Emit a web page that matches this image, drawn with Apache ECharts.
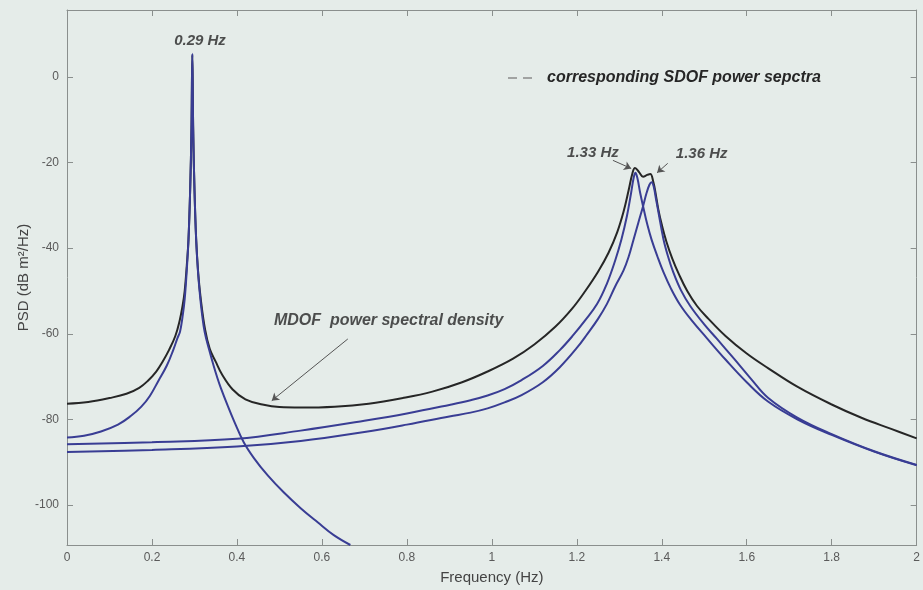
<!DOCTYPE html>
<html>
<head>
<meta charset="utf-8">
<script src="https://cdn.jsdelivr.net/npm/echarts@6/dist/echarts.min.js"></script>
<style>
  html, body { margin: 0; padding: 0; background: #e5ece9; }
  #main { width: 923px; height: 590px; }
</style>
</head>
<body>
<div id="main"></div>
<script>
// [frequency Hz, PSD dB]
var mdofPsd = [
  [0.00, -76.3], [0.05, -75.9], [0.10, -75.0], [0.14, -74.0], [0.17, -72.6],
  [0.19, -71.0], [0.21, -68.8], [0.225, -66.5], [0.24, -63.8], [0.255, -60.5],
  [0.265, -57.0], [0.272, -53.5], [0.277, -50.0], [0.282, -44.0], [0.286, -37.9],
  [0.29, -26.0], [0.293, -12.0], [0.295, 5.1], [0.297, -12.0], [0.300, -26.0],
  [0.304, -37.9], [0.309, -46.0], [0.315, -52.0], [0.325, -59.0], [0.336, -63.5],
  [0.35, -66.5], [0.365, -69.5], [0.39, -73.0], [0.42, -75.3], [0.46, -76.5],
  [0.50, -77.1], [0.55, -77.2], [0.63, -77.0], [0.71, -76.3], [0.79, -75.0],
  [0.86, -73.5], [0.93, -71.3], [0.99, -68.8], [1.05, -65.8], [1.10, -62.5],
  [1.15, -58.3], [1.19, -54.0], [1.22, -50.0], [1.25, -45.5], [1.275, -41.0],
  [1.295, -36.3], [1.31, -31.5], [1.322, -26.5], [1.331, -22.5], [1.337, -21.3],
  [1.347, -22.3], [1.356, -23.3], [1.366, -22.9], [1.373, -22.7], [1.38, -24.5],
  [1.386, -27.5], [1.392, -31.0], [1.40, -34.5], [1.411, -38.5], [1.425, -42.5],
  [1.44, -46.0], [1.46, -50.0], [1.483, -53.5], [1.51, -56.5], [1.55, -60.5],
  [1.60, -64.6], [1.65, -68.0], [1.72, -72.4], [1.80, -76.5], [1.87, -79.6],
  [1.94, -82.2], [2.00, -84.4]
];
var sdof029 = [
  [0.00, -84.2], [0.04, -83.8], [0.08, -82.8], [0.12, -81.2], [0.15, -79.2],
  [0.175, -77.0], [0.195, -74.5], [0.215, -71.0], [0.235, -67.4], [0.25, -63.8],
  [0.26, -61.0], [0.266, -59.5], [0.272, -56.0], [0.277, -51.9], [0.282, -45.0],
  [0.286, -37.9], [0.29, -26.0], [0.293, -12.0], [0.295, 5.4], [0.297, -12.0],
  [0.300, -26.0], [0.304, -37.9], [0.308, -45.0], [0.313, -51.0], [0.318, -55.5],
  [0.324, -59.5], [0.334, -63.5], [0.345, -67.4], [0.354, -70.3], [0.362, -72.6],
  [0.378, -76.7], [0.393, -80.3], [0.416, -85.3], [0.44, -89.0], [0.472, -93.0],
  [0.51, -97.0], [0.55, -100.7], [0.59, -104.0], [0.628, -107.0], [0.667, -109.3]
];
var sdof133 = [
  [0.00, -85.8], [0.20, -85.3], [0.40, -84.5], [0.55, -82.6], [0.70, -80.3],
  [0.80, -78.6], [0.90, -76.6], [0.95, -75.5], [0.99, -74.4], [1.03, -72.9],
  [1.07, -70.8], [1.12, -67.5], [1.16, -63.8], [1.19, -60.5], [1.22, -56.8],
  [1.248, -53.0], [1.27, -48.5], [1.29, -43.0], [1.305, -38.0], [1.318, -32.5],
  [1.328, -27.0], [1.334, -23.5], [1.338, -22.4], [1.343, -23.8], [1.349, -27.0],
  [1.356, -30.2], [1.366, -34.5], [1.376, -38.0], [1.39, -42.0], [1.404, -45.6],
  [1.422, -49.5], [1.443, -53.2], [1.47, -56.8], [1.506, -61.0], [1.55, -66.0],
  [1.60, -71.3], [1.65, -75.8], [1.72, -80.0], [1.80, -83.6], [1.90, -87.5],
  [2.00, -90.7]
];
var sdof136 = [
  [0.00, -87.6], [0.20, -87.1], [0.40, -86.3], [0.55, -85.0], [0.70, -82.9],
  [0.80, -81.2], [0.90, -79.3], [0.95, -78.4], [0.99, -77.4], [1.03, -76.0],
  [1.07, -74.3], [1.12, -71.3], [1.16, -67.8], [1.20, -63.3], [1.225, -60.0],
  [1.25, -56.5], [1.271, -53.0], [1.29, -49.0], [1.31, -45.2], [1.322, -42.0],
  [1.333, -38.2], [1.345, -34.0], [1.356, -30.2], [1.364, -27.2], [1.371, -25.2],
  [1.376, -24.6], [1.381, -25.6], [1.386, -28.3], [1.392, -31.5], [1.404, -37.9],
  [1.415, -42.0], [1.427, -45.6], [1.445, -49.8], [1.467, -53.5], [1.50, -57.8],
  [1.53, -61.2], [1.57, -65.8], [1.61, -70.5], [1.65, -74.9], [1.72, -79.6],
  [1.80, -83.4], [1.90, -87.4], [2.00, -90.6]
];
var yTicks = [-100, -80, -60, -40, -20, 0];

var chart = echarts.init(document.getElementById('main'));

var fontFamily = '"Liberation Sans", Arial, sans-serif';
var tickFont = { color: '#5a5a5a', fontSize: 12, fontFamily: fontFamily };
var noteFont = { color: '#262626', fontSize: 15, fontStyle: 'italic', fontWeight: 'bold', fontFamily: fontFamily };
var axisGrey = '#8a8f8d';

function curve(name, data, color) {
  return {
    name: name,
    type: 'line',
    data: data,
    showSymbol: false,
    smooth: 0.4,
    silent: true,
    lineStyle: { color: color, width: 2 }
  };
}

// matlab style box: ticks inside on all four sides
function boxAxis(extra) {
  return Object.assign({
    type: 'value',
    axisLine: { show: true, onZero: false, lineStyle: { color: axisGrey } },
    axisTick: { inside: true, length: 6, lineStyle: { color: axisGrey } },
    axisLabel: { show: false },
    splitLine: { show: false }
  }, extra);
}

chart.setOption({
  backgroundColor: '#e5ece9',
  animation: false,
  grid: { left: 67, right: 6, top: 10, bottom: 43 },
  xAxis: [
    boxAxis({
      min: 0, max: 2, interval: 0.2, position: 'bottom',
      name: 'Frequency (Hz)', nameLocation: 'middle', nameGap: 25,
      nameTextStyle: { color: '#444', fontSize: 15, fontFamily: fontFamily },
      axisLabel: Object.assign({ show: true, margin: 7 }, tickFont)
    }),
    boxAxis({ min: 0, max: 2, interval: 0.2, position: 'top' })
  ],
  yAxis: [
    boxAxis({
      min: -109.3, max: 15.6, position: 'left',
      name: 'PSD (dB m\u00b2/Hz)', nameLocation: 'middle', nameGap: 36,
      nameMoveOverlap: false,
      nameTextStyle: { color: '#444', fontSize: 15, fontFamily: fontFamily },
      axisTick: { inside: true, length: 6, customValues: yTicks, lineStyle: { color: axisGrey } },
      axisLabel: Object.assign({ show: true, margin: 8, customValues: yTicks }, tickFont)
    }),
    boxAxis({
      min: -109.3, max: 15.6, position: 'right',
      axisTick: { inside: true, length: 6, customValues: yTicks, lineStyle: { color: axisGrey } }
    })
  ],
  series: [
    curve('MDOF', mdofPsd, '#262626'),
    curve('SDOF 0.29 Hz', sdof029, '#393d94'),
    curve('SDOF 1.33 Hz', sdof133, '#393d94'),
    curve('SDOF 1.36 Hz', sdof136, '#393d94'),
    {
      // text notes + arrows
      type: 'scatter',
      symbolSize: 0,
      silent: true,
      label: Object.assign({ show: true, position: 'inside' }, noteFont),
      data: [
        { value: [0.313, 8.3], label: { formatter: '0.29 Hz' } },
        { value: [1.238, -17.7], label: { formatter: '1.33 Hz' } },
        { value: [1.494, -18.1], label: { formatter: '1.36 Hz' } },
        { value: [0.757, -57.0], label: { formatter: 'MDOF  power spectral density', fontSize: 16 } }
      ],
      markLine: {
        silent: true,
        symbol: ['none', 'arrow'],
        symbolSize: 7,
        label: { show: false },
        lineStyle: { color: '#555', width: 1, type: 'solid' },
        data: [
          [{ coord: [0.661, -61.2] }, { coord: [0.482, -75.6] }],
          [{ coord: [1.285, -19.5] }, { coord: [1.328, -21.4] }],
          [{ coord: [1.414, -20.2] }, { coord: [1.389, -22.4] }]
        ]
      }
    }
  ],
  graphic: [
    {
      type: 'line',
      shape: { x1: 508, y1: 78, x2: 538, y2: 78 },
      style: { stroke: '#8a8a8a', lineWidth: 1.3, lineDash: [9, 6] }
    },
    {
      type: 'text', x: 547, y: 78,
      style: {
        text: 'corresponding SDOF power sepctra',
        font: 'italic bold 16px "Liberation Sans", Arial, sans-serif',
        fill: '#262626', verticalAlign: 'middle'
      }
    }
  ]
});
</script>
</body>
</html>
